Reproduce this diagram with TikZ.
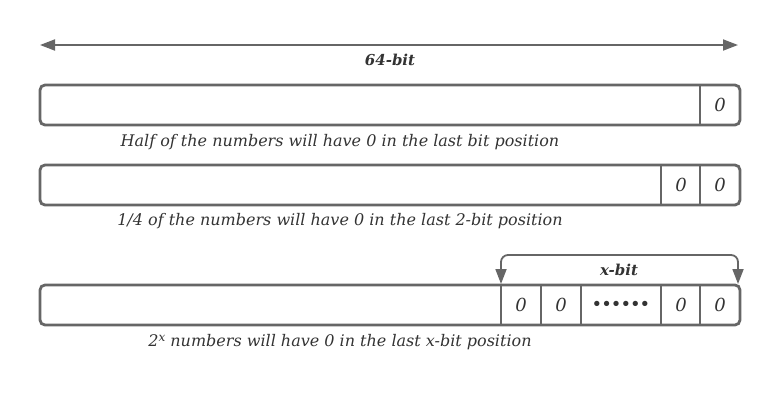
\documentclass[tikz,border=0pt]{standalone}
\usepackage{fontspec}
\setmainfont{DejaVu Serif}
\usetikzlibrary{arrows.meta}
\definecolor{ln}{HTML}{666666}
\definecolor{tx}{HTML}{333333}
\begin{document}
\begin{tikzpicture}[x=1pt,y=-1pt,
  bar/.style={draw=ln,line width=2.8pt,rounded corners=5pt},
  div/.style={draw=ln,line width=1.8pt},
  captxt/.style={text=tx,font=\fontsize{16}{18}\selectfont\itshape,inner sep=0pt},
  bitlbl/.style={text=tx,font=\fontsize{15}{17}\selectfont\itshape\bfseries,inner sep=0pt},
  zero/.style={text=tx,font=\fontsize{18}{20}\selectfont\itshape,inner sep=0pt},
  arr/.style={draw=ln,line width=1.8pt},
  tip/.tip={Triangle[length=15pt,width=11pt]}]
\useasboundingbox (0,0) rectangle (783,400);
% top arrow
\coordinate (tl) at (40,45);
\coordinate (tr) at (738,45);
\draw[arr,tip-tip] (tl) -- (tr);
\node[bitlbl] (b64) at (390,60) {64-bit};
% bar 1
\draw[bar] (40,85) rectangle (740,125);
\draw[div] (700,85) -- (700,125);
\node[zero] (z11) at (720,105) {0};
\node[captxt] (c1) at (340,142) {Half of the numbers will have 0 in the last bit position};
% bar 2
\draw[bar] (40,165) rectangle (740,205);
\draw[div] (661,165) -- (661,205);
\draw[div] (700,165) -- (700,205);
\node[zero] (z21) at (681,185) {0};
\node[zero] (z22) at (720,185) {0};
\node[captxt] (c2) at (340,221) {1/4 of the numbers will have 0 in the last 2-bit position};
% bracket
\coordinate (bl) at (501,284);
\coordinate (br) at (738,284);
\draw[arr,rounded corners=7pt,tip-tip] (bl) -- (501,255) -- (738,255) -- (br);
\node[bitlbl] (xb) at (619,270) {x-bit};
% bar 3
\draw[bar] (40,285) rectangle (740,325);
\foreach \x in {501,541,581,661,700} \draw[div] (\x,285) -- (\x,325);
\node[zero] (z31) at (521,305) {0};
\node[zero] (z32) at (561,305) {0};
\node[text=tx,font=\fontsize{15}{17}\selectfont\bfseries,inner sep=0pt] (dots) at (621,305) {••••••};
\node[zero] (z33) at (681,305) {0};
\node[zero] (z34) at (720,305) {0};
\node[captxt] (c3) at (340,342) {2{\fontsize{12}{14}\selectfont\raisebox{0.45em}{x}} numbers will have 0 in the last x-bit position};
\end{tikzpicture}
\end{document}
